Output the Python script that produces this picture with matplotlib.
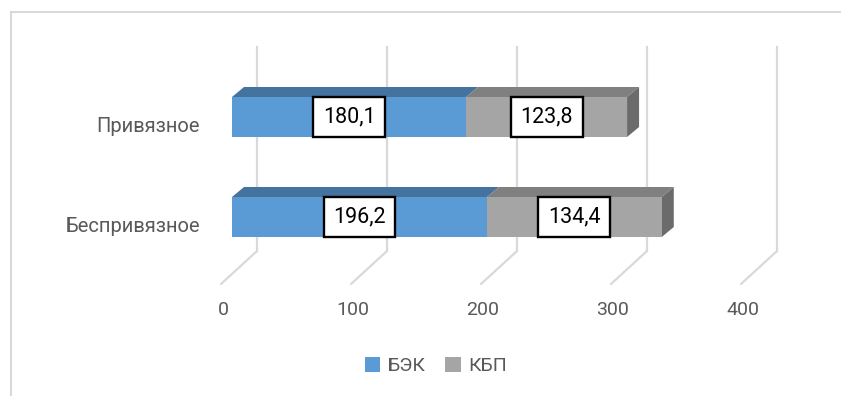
import matplotlib

matplotlib.use("Agg")

import matplotlib.pyplot as plt
import matplotlib.transforms as mtransforms
from matplotlib.patches import Patch, Polygon, Rectangle

plt.rcParams["font.family"] = ["Roboto", "DejaVu Sans"]

categories = ["Беспривязное", "Привязное"]
series_names = ["БЭК", "КБП"]
bek_values = [196.2, 180.1]
kbp_values = [134.4, 123.8]
x_ticks = [0, 100, 200, 300, 400]

FIG_W, FIG_H = 841, 396
DPI = 100
# axes geometry in pixels (front plane of the bars)
AX_LEFT, AX_RIGHT = 232, 752
AX_TOP, AX_BOTTOM = 67, 267
XMAX = 400
PX_PER_X = (AX_RIGHT - AX_LEFT) / XMAX
PX_PER_Y = (AX_BOTTOM - AX_TOP) / 2.0

BAR_H = 0.40
DEPTH_DX, DEPTH_DY = 12, 10
BACK_DX = 25
FRONT_DX, FRONT_DY = -11, -33

face_colors = ["#5b9bd5", "#a5a5a5"]
top_colors = ["#44739f", "#808080"]
side_color = "#6b6b6b"
grid_color = "#d9d9d9"
text_color = "#595959"

fig = plt.figure(figsize=(FIG_W / DPI, FIG_H / DPI), dpi=DPI)
ax = fig.add_axes([
    AX_LEFT / FIG_W,
    1 - AX_BOTTOM / FIG_H,
    (AX_RIGHT - AX_LEFT) / FIG_W,
    (AX_BOTTOM - AX_TOP) / FIG_H,
])
ax.set_xlim(0, XMAX)
ax.set_ylim(-0.5, 1.5)
ax.axis("off")

# chart frame (cut by the image edges on the right and bottom)
fig.add_artist(Rectangle((11 / FIG_W, -0.1), 1.2, 1 - 12 / FIG_H + 0.1,
                         transform=fig.transFigure, fill=False,
                         edgecolor=grid_color, linewidth=1.5))

# back wall gridlines and floor lines
blend = mtransforms.blended_transform_factory(ax.transData, ax.transAxes)
back = mtransforms.offset_copy(blend, fig=fig, x=BACK_DX, y=0, units="dots")
floor = mtransforms.offset_copy(blend, fig=fig, x=FRONT_DX, y=FRONT_DY, units="dots")
lab = mtransforms.offset_copy(blend, fig=fig, x=-9, y=0, units="dots")
wall_top = (AX_BOTTOM - 47) / (AX_BOTTOM - AX_TOP)
wall_bottom = (AX_BOTTOM - 251) / (AX_BOTTOM - AX_TOP)
for tick in x_ticks:
    ax.plot([tick, tick], [wall_bottom, wall_top], transform=back,
            color=grid_color, linewidth=1.6, zorder=0, clip_on=False)
    ax.annotate("", xy=(tick, wall_bottom), xycoords=back,
                xytext=(tick, wall_bottom), textcoords=floor,
                arrowprops=dict(arrowstyle="-", color=grid_color, lw=1.6,
                                shrinkA=0, shrinkB=0), zorder=0)
    ax.text(tick, (AX_BOTTOM - 310) / (AX_BOTTOM - AX_TOP), f"{tick}",
            transform=lab, ha="center", va="center", fontsize=14,
            color=text_color, clip_on=False)

# stacked bars with a 3D look
ddx = DEPTH_DX / PX_PER_X
ddy = DEPTH_DY / PX_PER_Y
cat_tr = mtransforms.offset_copy(ax.transData, fig=fig, x=-32, y=-10, units="dots")
for i, cat in enumerate(categories):
    lefts = [0, bek_values[i]]
    widths = [bek_values[i], kbp_values[i]]
    top = i + BAR_H / 2
    bottom = i - BAR_H / 2
    for j in range(2):
        x0 = lefts[j]
        x1 = x0 + widths[j]
        ax.barh(i, widths[j], left=x0, height=BAR_H, color=face_colors[j],
                linewidth=0, zorder=3)
        ax.add_patch(Polygon([(x0, top), (x1, top), (x1 + ddx, top + ddy),
                              (x0 + ddx, top + ddy)], closed=True,
                             facecolor=top_colors[j], edgecolor="none", zorder=2))
        ax.text(x0 + widths[j] / 2, i, f"{widths[j]:.1f}".replace(".", ","),
                ha="center", va="center", fontsize=15.5, color="black", zorder=5,
                bbox=dict(boxstyle="square,pad=0.45", facecolor="white",
                          edgecolor="black", linewidth=1.7))
    x_end = bek_values[i] + kbp_values[i]
    ax.add_patch(Polygon([(x_end, bottom), (x_end, top),
                          (x_end + ddx, top + ddy),
                          (x_end + ddx, bottom + ddy)], closed=True,
                         facecolor=side_color, edgecolor="none", zorder=2))
    ax.text(0, i, cat, transform=cat_tr, ha="right", va="center",
            fontsize=14.5, color=text_color, clip_on=False)

handles = [Patch(facecolor=c, edgecolor="none") for c in face_colors]
fig.legend(handles, series_names, loc="center", bbox_to_anchor=(436 / FIG_W, 1 - 366 / FIG_H),
           ncol=2, frameon=False, fontsize=14, handlelength=0.8, handleheight=0.8,
           handletextpad=0.4, columnspacing=1.0, labelcolor=text_color)

fig.savefig("out.png", dpi=DPI)
